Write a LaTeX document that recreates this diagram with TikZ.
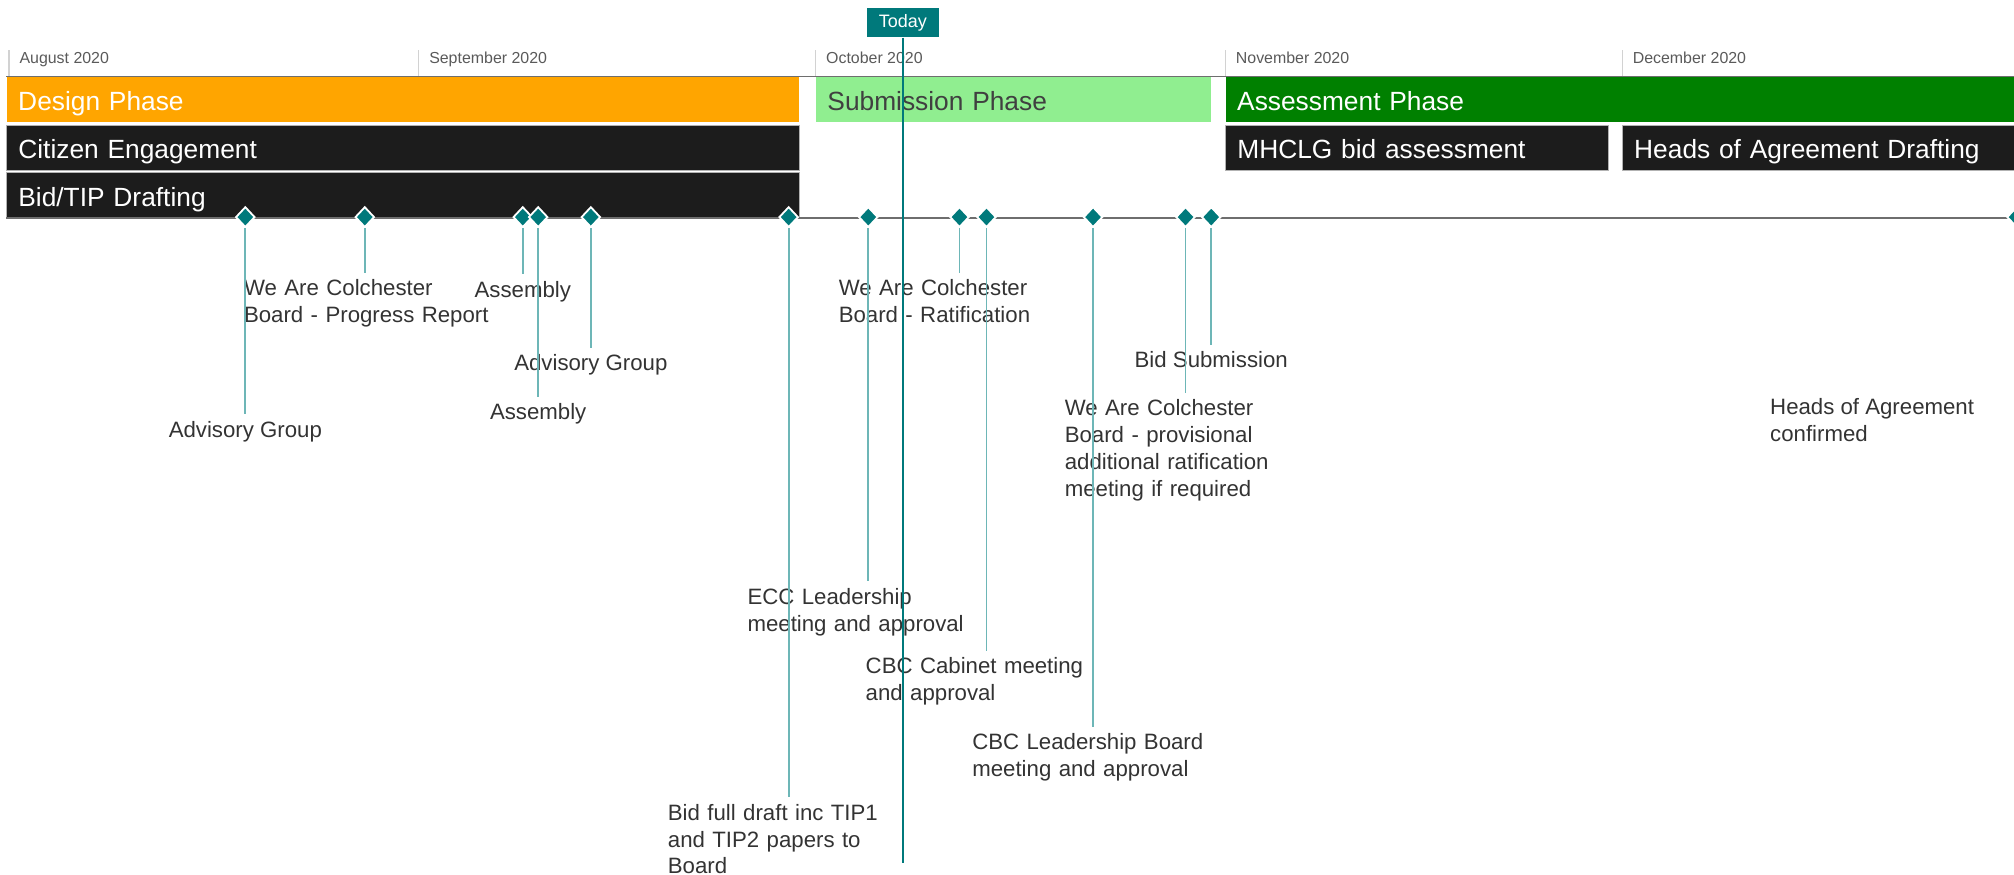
\documentclass[tikz,border=0pt]{standalone}
\usepackage{fontspec}
\setmainfont{Liberation Sans}
\usetikzlibrary{positioning,shapes.geometric}
\hyphenpenalty=10000

\definecolor{designorange}{HTML}{FFA500}
\definecolor{submitgreen}{HTML}{90EE90}
\definecolor{assessgreen}{HTML}{008000}
\definecolor{taskblack}{HTML}{1C1C1C}
\definecolor{milestoneteal}{HTML}{00797B}
\definecolor{stemteal}{HTML}{6DB6B7}
\definecolor{monthgray}{HTML}{5A5A5A}
\definecolor{axisgray}{HTML}{6E6E6E}

\begin{document}
\begin{tikzpicture}
[x=1pt, y=-1pt,
% STYLES
% The bar style is shared by the phase and the task rows
bar/.style={rectangle, anchor=north west, inner xsep=9pt, inner ysep=0pt, minimum height=35pt, text height=17pt, text depth=0pt, align=left, font=\fontsize{20.5}{24}\selectfont},
phase/.style={bar, fill=#1},
task/.style={bar, fill=taskblack, draw=gray!60, line width=0.6pt, text=white},
% Month names above the bars
month/.style={anchor=base west, inner sep=0pt, text=monthgray, font=\fontsize{12.4}{15}\selectfont},
monthtick/.style={gray!35, line width=0.8pt},
% Milestones on the axis and their notes below
milestone/.style={diamond, fill=milestoneteal, draw=white, line width=1.4pt, inner sep=0pt, minimum width=15pt, minimum height=16pt},
note/.style={inner xsep=0pt, inner ysep=5pt, text=black!80, font=\fontsize{17.3}{21}\selectfont},
widenote/.style={note, text width=210pt, xshift=11pt, align=left},
stem/.style={stemteal, line width=1.4pt},
today/.style={rectangle, fill=milestoneteal, text=white, minimum width=56pt, minimum height=23pt, inner sep=0pt, font=\fontsize{14}{16}\selectfont},
todayline/.style={milestoneteal, line width=1pt}]

\useasboundingbox (0,0) rectangle (1568,681);

% Months
\draw[monthtick] (7,39) -- (7,59);
\draw[monthtick] (326,39) -- (326,59);
\draw[monthtick] (635,39) -- (635,59);
\draw[monthtick] (954,39) -- (954,59);
\draw[monthtick] (1263,39) -- (1263,59);
\node[month] (aug) at (15,49.5) {August 2020};
\node[month] (sep) at (334,49.5) {September 2020};
\node[month] (oct) at (643,49.5) {October 2020};
\node[month] (nov) at (962,49.5) {November 2020};
\node[month] (dec) at (1271,49.5) {December 2020};

\draw[axisgray, line width=1.2pt] (5,59.5) -- (1568,59.5);

% Phases
\node[phase=designorange, text=white, text width=599pt] (design) at (5,60) {Design Phase};
\node[phase=submitgreen, text=black!75, text width=290pt] (submission) at (635,60) {Submission Phase};
\node[phase=assessgreen, text=white, text width=606pt] (assessment) at (954,60) {Assessment Phase};

% Tasks
\node[task, text width=599pt] (citizen) at (5,97) {Citizen Engagement};
\node[task, text width=280pt] (mhclg) at (954,97) {MHCLG bid assessment};
\node[task, text width=295pt] (hoadraft) at (1263,97) {Heads of Agreement Drafting};
\node[task, text width=599pt, minimum height=36pt] (bidtip) at (5,134) {Bid/TIP Drafting};

% Axis
\coordinate (axisstart) at (5,170);
\coordinate (axisend) at (1568,170);
\draw[axisgray, line width=1.5pt] (axisstart) -- (axisend);

% Milestones
\node[milestone] (m1) at (191,169) {};
\node[milestone] (m2) at (284,169) {};
\node[milestone] (m3) at (407,169) {};
\node[milestone] (m4) at (419,169) {};
\node[milestone] (m5) at (460,169) {};
\node[milestone] (m6) at (614,169) {};
\node[milestone] (m7) at (676,169) {};
\node[milestone] (m8) at (747,169) {};
\node[milestone] (m9) at (768,169) {};
\node[milestone] (m10) at (851,169) {};
\node[milestone] (m11) at (923,169) {};
\node[milestone] (m12) at (943,169) {};
\node[milestone] (m13) at (1570,169) {};

%%%%%%%%%%%%%%%
% Notes

\node[note, below=145pt of m1] (n1) {Advisory Group};
\node[widenote, below=35pt of m2] (n2) {We Are Colchester\\Board - Progress Report};
\node[note, below=36pt of m3] (n3) {Assembly};
\node[note, below=131pt of m4] (n4) {Assembly};
\node[note, below=93pt of m5] (n5) {Advisory Group};
\node[widenote, below=443pt of m6] (n6) {Bid full draft inc TIP1\\and TIP2 papers to\\Board};
\node[widenote, below=275pt of m7] (n7) {ECC Leadership\\meeting and approval};
\node[widenote, below=35pt of m8] (n8) {We Are Colchester\\Board - Ratification};
\node[widenote, below=329pt of m9] (n9) {CBC Cabinet meeting\\and approval};
\node[widenote, below=388pt of m10] (n10) {CBC Leadership Board\\meeting and approval};
\node[widenote, below=128pt of m11] (n11) {We Are Colchester\\Board - provisional\\additional ratification\\meeting if required};
\node[note, below=91pt of m12] (n12) {Bid Submission};
\node[note, anchor=north west, align=left] (n13) at (1378,305) {Heads of Agreement\\confirmed};

% Stems from the milestones down to the notes
\draw[stem] (m1.south) -- (m1.south |- n1.north);
\draw[stem] (m2.south) -- (m2.south |- n2.north);
\draw[stem] (m3.south) -- (m3.south |- n3.north);
\draw[stem] (m4.south) -- (m4.south |- n4.north);
\draw[stem] (m5.south) -- (m5.south |- n5.north);
\draw[stem] (m6.south) -- (m6.south |- n6.north);
\draw[stem] (m7.south) -- (m7.south |- n7.north);
\draw[stem] (m8.south) -- (m8.south |- n8.north);
\draw[stem] (m9.south) -- (m9.south |- n9.north);
\draw[stem] (m10.south) -- (m10.south |- n10.north);
\draw[stem] (m11.south) -- (m11.south |- n11.north);
\draw[stem] (m12.south) -- (m12.south |- n12.north);

% Today marker
\node[today] (today) at (703,17.5) {Today};
\coordinate (todayend) at (703,672);
\draw[todayline] (today.south) -- (todayend);

\end{tikzpicture}
\end{document}
